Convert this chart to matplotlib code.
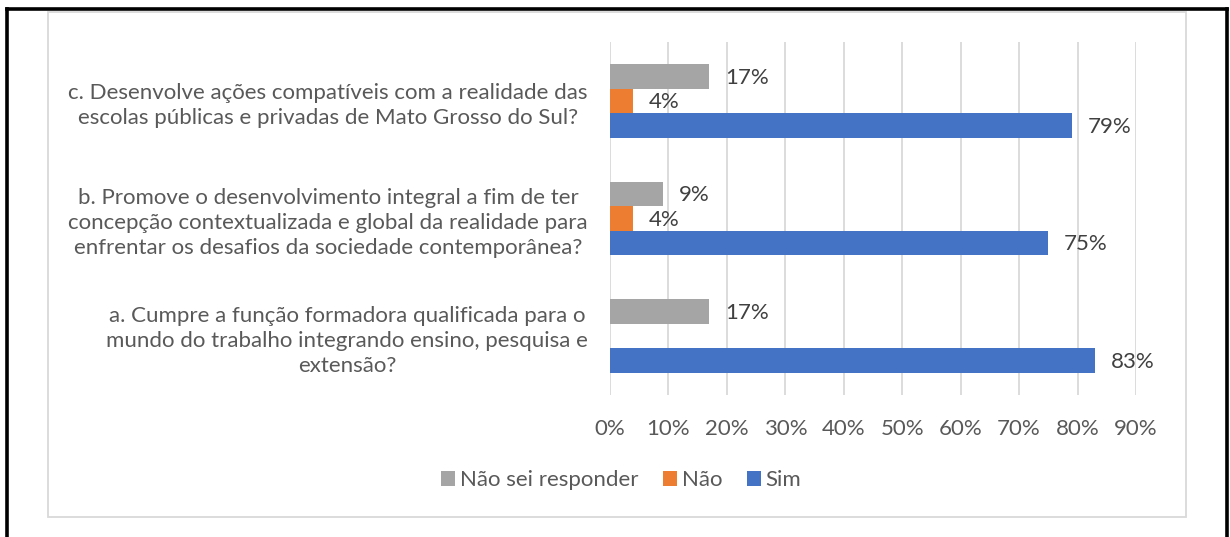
import numpy as np
import matplotlib.pyplot as plt
from matplotlib.patches import Rectangle
from matplotlib.lines import Line2D

plt.rcParams['font.family'] = ['Lato', 'DejaVu Sans']

# data, bottom to top
perguntas = [
    "a. Cumpre a função formadora qualificada para o\nmundo do trabalho integrando ensino, pesquisa e\nextensão?",
    "b. Promove o desenvolvimento integral a fim de ter\nconcepção contextualizada e global da realidade para\nenfrentar os desafios da sociedade contemporânea?",
    "c. Desenvolve ações compatíveis com a realidade das\nescolas públicas e privadas de Mato Grosso do Sul?",
]
nao_sei = [0.17, 0.09, 0.17]
nao = [0.0, 0.04, 0.04]
sim = [0.83, 0.75, 0.79]
ticks = [0, 0.1, 0.2, 0.3, 0.4, 0.5, 0.6, 0.7, 0.8, 0.9]

W, H = 1230, 537
fig = plt.figure(figsize=(W / 100, H / 100), dpi=100)

# outer black frame (no bottom edge) and inner grey chart border
fig.add_artist(Line2D([6.5 / W, 6.5 / W], [0, 1 - 8.5 / H], color='black', lw=2.6))
fig.add_artist(Line2D([6.5 / W, 1226.5 / W], [1 - 8.5 / H, 1 - 8.5 / H], color='black', lw=2.6))
fig.add_artist(Line2D([1226.5 / W, 1226.5 / W], [0, 1 - 8.5 / H], color='black', lw=2.6))
fig.add_artist(Rectangle((48 / W, 1 - 517 / H), (1186 - 48) / W, (517 - 12) / H,
                         fill=False, edgecolor='#D9D9D9', lw=1.3))

ax = fig.add_axes([610 / W, 1 - 395 / H, (1136 - 610) / W, (395 - 42) / H])

y = np.arange(len(perguntas))
h = 0.208
cores = {'Não sei responder': '#A5A5A5', 'Não': '#ED7D31', 'Sim': '#4472C4'}
series = [('Não sei responder', nao_sei, h), ('Não', nao, 0), ('Sim', sim, -h)]

for nome, vals, off in series:
    bars = ax.barh(y + off, vals, height=h, color=cores[nome], label=nome, zorder=2)
    for b, v in zip(bars, vals):
        if v == 0:
            continue
        ax.text(v + 0.027, b.get_y() + h / 2 - 0.012, f"{round(v * 100)}%",
                va='center', ha='left', fontsize=16, color='#404040')

ax.set_xlim(0, 0.9)
ax.set_ylim(-0.5, 2.5)
ax.set_xticks(ticks)
ax.set_xticklabels([f"{round(t * 100)}%" for t in ticks])
ax.set_yticks(y)
ax.set_yticklabels(perguntas, linespacing=1.32)
for t in ax.get_yticklabels():
    t.set_multialignment('center')

ax.grid(axis='x', color='#D9D9D9', lw=1.3, zorder=0)
ax.tick_params(axis='both', length=0, labelsize=16, labelcolor='#595959')
ax.tick_params(axis='x', pad=17)
ax.tick_params(axis='y', pad=16)
for s in ax.spines.values():
    s.set_visible(False)

fig.legend(loc='center', bbox_to_anchor=(621 / W, 1 - 480 / H), ncol=3, frameon=False,
           fontsize=16, handlelength=0.65, handleheight=0.65, handletextpad=0.2,
           columnspacing=1.1, labelcolor='#595959')

fig.savefig('out.png', dpi=100)
